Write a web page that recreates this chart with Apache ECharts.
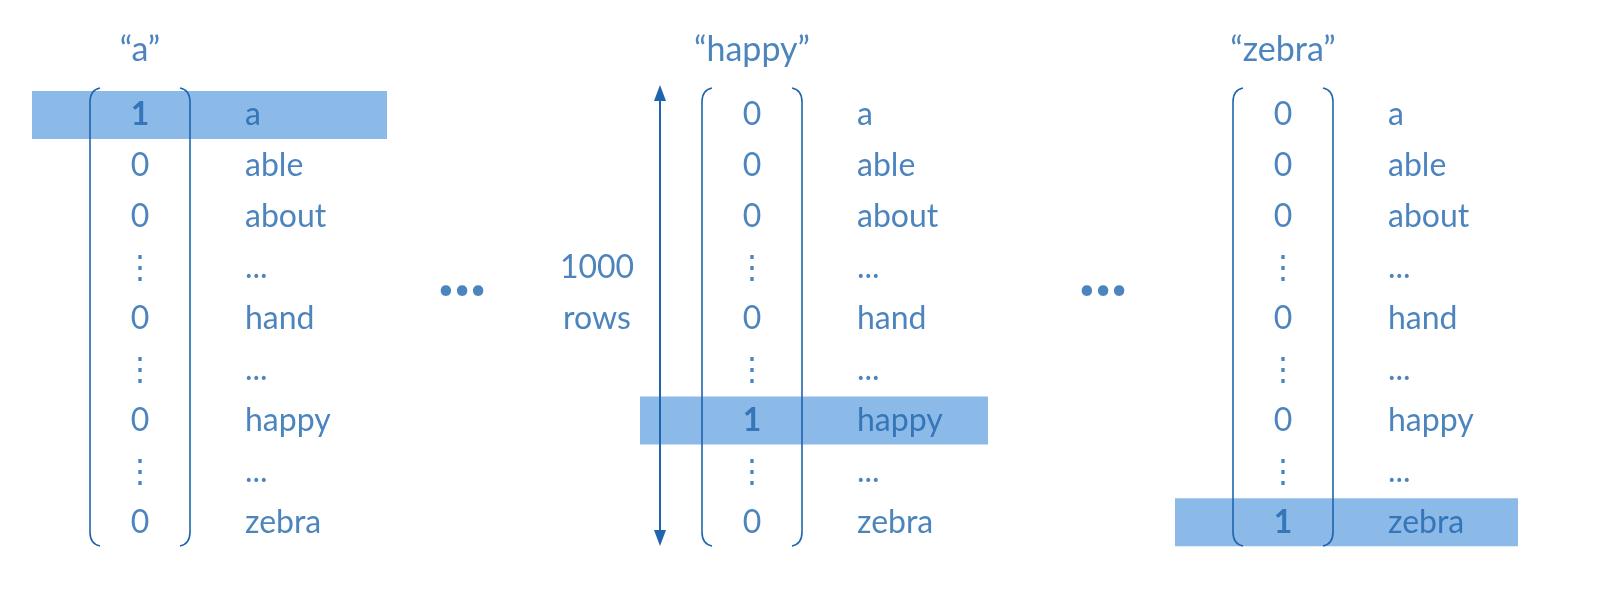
<!DOCTYPE html>
<html lang="en">
<head>
<meta charset="UTF-8">
<title>One-hot vectors</title>
<style>
  html, body { margin: 0; background: #fff; }
  #main { width: 1609px; height: 616px; }
</style>
<script src="https://cdn.jsdelivr.net/npm/echarts@6/dist/echarts.min.js"></script>
</head>
<body>
<div id="main"></div>
<script>
// vocabulary rows shown in each vector
var words = ['a', 'able', 'about', '...', 'hand', '...', 'happy', '...', 'zebra'];
var gapRows = [3, 5, 7];
var titles = ['\u201ca\u201d', '\u201chappy\u201d', '\u201czebra\u201d'];
// index of the "1" in each vector
var hotRow = [0, 6, 8];
var sizeLabel = ['1000', 'rows'];

var blue = '#1f65ad';
var hl = '#8bb9e8';
var colX = [140, 752, 1283];   // digit column centres
var wordDx = 105;
var rowY0 = 115, rowStep = 50.9;
function rowY(i) { return rowY0 + i * rowStep; }

var chart = echarts.init(document.getElementById('main'));

var textData = [];
titles.forEach(function (t, c) {
  textData.push({ value: [colX[c], 50], label: { formatter: t, fontSize: 34 } });
  words.forEach(function (w, i) {
    var isGap = gapRows.indexOf(i) >= 0;
    var digit = isGap ? '\u22ee' : (i === hotRow[c] ? '1' : '0');
    textData.push({ value: [colX[c], rowY(i)], label: { formatter: digit, fontWeight: i === hotRow[c] ? 'bold' : 'normal' } });
    textData.push({ value: [colX[c] + wordDx, rowY(i)], label: { formatter: w, align: 'left' } });
  });
});
textData.push({ value: [597, rowY(3)], label: { formatter: sizeLabel[0] } });
textData.push({ value: [597, rowY(4)], label: { formatter: sizeLabel[1] } });
textData.push({ value: [462, 290], label: { formatter: '\u2022\u2022\u2022', fontSize: 28 } });
textData.push({ value: [1103, 290], label: { formatter: '\u2022\u2022\u2022', fontSize: 28 } });

var hlRanges = [[32, 387], [640, 988], [1175, 1518]];

chart.setOption({
  animation: false,
  grid: { left: 0, right: 0, top: 0, bottom: 0 },
  xAxis: { type: 'value', min: 0, max: 1609, show: false },
  yAxis: { type: 'value', min: 0, max: 616, inverse: true, show: false },
  series: [
    {
      type: 'custom',
      z: 1,
      data: hotRow.map(function (r, c) { return [c, r]; }),
      renderItem: function (params, api) {
        var c = api.value(0), r = api.value(1);
        var p0 = api.coord([hlRanges[c][0], rowY(r) - 24]);
        var p1 = api.coord([hlRanges[c][1], rowY(r) + 24]);
        return { type: 'rect', shape: { x: p0[0], y: p0[1], width: p1[0] - p0[0], height: p1[1] - p0[1] }, style: { fill: hl } };
      }
    },
    {
      type: 'custom',
      z: 2,
      data: colX.map(function (x) { return [x]; }),
      renderItem: function (params, api) {
        var x = api.value(0);
        var t = api.coord([x, 88])[1], b = api.coord([x, 546])[1];
        var l = api.coord([x - 50, 0])[0], rr = api.coord([x + 50, 0])[0];
        var st = { stroke: blue, lineWidth: 1.6, fill: null };
        return {
          type: 'group',
          children: [
            { type: 'path', shape: { pathData: 'M' + (l + 10) + ' ' + t + ' Q' + l + ' ' + (t + 2) + ' ' + l + ' ' + (t + 14) + ' L' + l + ' ' + (b - 14) + ' Q' + l + ' ' + (b - 2) + ' ' + (l + 10) + ' ' + b }, style: st },
            { type: 'path', shape: { pathData: 'M' + (rr - 10) + ' ' + t + ' Q' + rr + ' ' + (t + 2) + ' ' + rr + ' ' + (t + 14) + ' L' + rr + ' ' + (b - 14) + ' Q' + rr + ' ' + (b - 2) + ' ' + (rr - 10) + ' ' + b }, style: st }
          ]
        };
      }
    },
    {
      type: 'custom',
      z: 2,
      data: [[660]],
      renderItem: function (params, api) {
        var p0 = api.coord([api.value(0), 85]), p1 = api.coord([api.value(0), 546]);
        var x = p0[0];
        return {
          type: 'group',
          children: [
            { type: 'line', shape: { x1: x, y1: p0[1] + 6, x2: x, y2: p1[1] - 6 }, style: { stroke: blue, lineWidth: 2 } },
            { type: 'polygon', shape: { points: [[x, p0[1]], [x - 6, p0[1] + 16], [x + 6, p0[1] + 16]] }, style: { fill: blue } },
            { type: 'polygon', shape: { points: [[x, p1[1]], [x - 6, p1[1] - 16], [x + 6, p1[1] - 16]] }, style: { fill: blue } }
          ]
        };
      }
    },
    {
      type: 'scatter',
      z: 3,
      symbolSize: 0,
      silent: true,
      data: textData,
      label: {
        show: true,
        position: 'inside',
        color: blue,
        fontFamily: 'Lato',
        fontSize: 32,
        align: 'center',
        verticalAlign: 'middle'
      }
    }
  ]
});
</script>
</body>
</html>
